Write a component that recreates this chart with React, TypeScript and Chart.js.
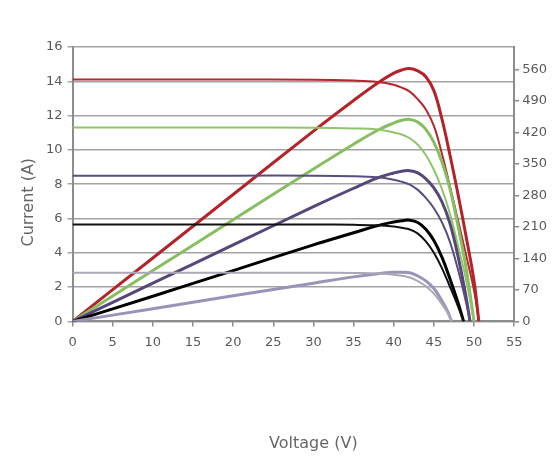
import React, { useEffect, useRef } from "react";
import { Chart, registerables } from "chart.js";

Chart.register(...registerables);

// voltage samples (V) for each irradiance level
const redVolts = [0, 10, 20, 30, 35, 38, 40, 41, 42, 43, 44, 45, 46, 47, 48, 49, 50, 50.6];
const greenVolts = [0, 10, 20, 30, 35, 38, 40, 41, 42, 43, 44, 45, 46, 47, 48, 49, 50];
const purpleVolts = [0, 10, 20, 30, 35, 38, 40, 41, 42, 43, 44, 45, 46, 47, 48, 49, 49.5];
const blackVolts = [0, 10, 20, 30, 35, 38, 40, 41, 42, 43, 44, 45, 46, 47, 48, 48.7];
const lavenderVolts = [0, 10, 20, 30, 35, 38, 40, 41, 42, 43, 44, 45, 46, 46.7, 47.2];

// current (A), left axis
const redAmps = [14.1, 14.1, 14.1, 14.09, 14.04, 13.96, 13.8, 13.63, 13.4, 12.95, 12.36, 11.4, 9.78, 7.87, 5.9, 3.88, 1.8, 0];
const greenAmps = [11.3, 11.3, 11.3, 11.29, 11.25, 11.19, 11.02, 10.9, 10.68, 10.3, 9.7, 8.84, 7.72, 6.28, 4.42, 2.45, 0];
const purpleAmps = [8.5, 8.5, 8.5, 8.5, 8.47, 8.4, 8.26, 8.14, 7.98, 7.67, 7.2, 6.6, 5.78, 4.64, 3.02, 1.12, 0];
const blackAmps = [5.65, 5.65, 5.65, 5.65, 5.63, 5.6, 5.53, 5.46, 5.36, 5.12, 4.66, 4.0, 3.11, 2.02, 0.88, 0];
const lavenderAmps = [2.84, 2.84, 2.84, 2.84, 2.82, 2.8, 2.72, 2.66, 2.56, 2.35, 2.05, 1.62, 1.0, 0.5, 0];

// power (W), right axis
const redWatts = [0, 141, 282, 423, 491, 530, 552, 559, 562, 557, 544, 513, 450, 370, 283, 190, 90, 0];
const greenWatts = [0, 113, 226, 339, 394, 425, 441, 447, 449, 443, 427, 398, 355, 295, 212, 120, 0];
const purpleWatts = [0, 85, 170, 255, 296, 319, 330, 334, 335, 330, 317, 297, 266, 218, 145, 55, 0];
const blackWatts = [0, 56, 113, 170, 197, 213, 221, 224, 225, 220, 205, 180, 143, 95, 42, 0];
const lavenderWatts = [0, 28, 57, 85, 99, 106, 109, 109, 108, 101, 90, 73, 46, 23, 0];

const powerTicks = [0, 70, 140, 210, 280, 350, 420, 490, 560];

const FONT = "'DejaVu Sans', sans-serif";

const pts = (xs: number[], ys: number[]) => xs.map((x, i) => ({ x, y: ys[i] }));

const line = (data: { x: number; y: number }[], color: string, width: number, axis: string) => ({
  data,
  borderColor: color,
  borderWidth: width,
  pointRadius: 0,
  fill: false,
  tension: 0.4,
  yAxisID: axis,
});

// axis titles sit off-centre in the original, so draw them by hand
const axisTitles = {
  id: "axisTitles",
  afterDraw(chart: Chart) {
    const { ctx, chartArea } = chart;
    ctx.save();
    ctx.font = `16px ${FONT}`;
    ctx.fillStyle = "#666666";
    ctx.textAlign = "center";
    ctx.textBaseline = "middle";
    ctx.fillText("Voltage (V)", (chartArea.left + chartArea.right) / 2 + 20, chartArea.bottom + 122);
    ctx.translate(chartArea.left - 44, (chartArea.top + chartArea.bottom) / 2 + 18);
    ctx.rotate(-Math.PI / 2);
    ctx.fillText("Current (A)", 0, 0);
    ctx.restore();
  },
};

const App: React.FC = () => {
  const chartRef = useRef<HTMLCanvasElement | null>(null);
  const chartInstance = useRef<Chart | null>(null);

  useEffect(() => {
    const ctx = chartRef.current?.getContext("2d");
    if (!ctx) return;

    Chart.defaults.font.family = FONT;

    chartInstance.current = new Chart(ctx, {
      type: "line",
      data: {
        datasets: [
          line(pts(lavenderVolts, lavenderAmps), "#aba7b6", 2, "y"),
          line(pts(lavenderVolts, lavenderWatts), "#9b92b8", 3, "y1"),
          line(pts(blackVolts, blackAmps), "#111111", 2, "y"),
          line(pts(blackVolts, blackWatts), "#000000", 3, "y1"),
          line(pts(purpleVolts, purpleAmps), "#5b4c80", 2, "y"),
          line(pts(purpleVolts, purpleWatts), "#564679", 3, "y1"),
          line(pts(greenVolts, greenAmps), "#8fc46a", 2, "y"),
          line(pts(greenVolts, greenWatts), "#87bf60", 3, "y1"),
          line(pts(redVolts, redAmps), "#b3272d", 2, "y"),
          line(pts(redVolts, redWatts), "#b3242a", 3, "y1"),
        ],
      },
      options: {
        animation: false,
        responsive: true,
        maintainAspectRatio: false,
        layout: { padding: { left: 41, right: 8, top: 47, bottom: 111 } },
        plugins: { legend: { display: false }, tooltip: { enabled: false } },
        scales: {
          x: {
            type: "linear",
            min: 0,
            max: 55,
            ticks: { stepSize: 5, color: "#5a5a5a", font: { size: 13 }, padding: 8 },
            grid: { drawOnChartArea: false, color: "#8c8c8c", lineWidth: 1.5, tickLength: 5 },
            border: { color: "#8c8c8c", width: 2 },
          },
          y: {
            position: "left",
            min: 0,
            max: 16,
            ticks: { stepSize: 2, color: "#5a5a5a", font: { size: 13 }, padding: 5 },
            grid: { color: "#a3a3a3", lineWidth: 1.5, tickLength: 5 },
            border: { color: "#8c8c8c", width: 2 },
          },
          y1: {
            position: "right",
            min: 0,
            max: 610,
            afterBuildTicks: (scale: any) => {
              scale.ticks = powerTicks.map((value) => ({ value }));
            },
            ticks: { color: "#5a5a5a", font: { size: 13 }, padding: 3 },
            grid: { drawOnChartArea: false, color: "#8c8c8c", lineWidth: 1.5, tickLength: 5 },
            border: { color: "#8c8c8c", width: 2 },
          },
        },
      },
      plugins: [axisTitles],
    });

    return () => {
      chartInstance.current?.destroy();
      chartInstance.current = null;
    };
  }, []);

  return (
    <div style={{ position: "absolute", left: 0, top: 0, width: 558, height: 469, background: "#fff" }}>
      <canvas ref={chartRef} />
    </div>
  );
};

export default App;
